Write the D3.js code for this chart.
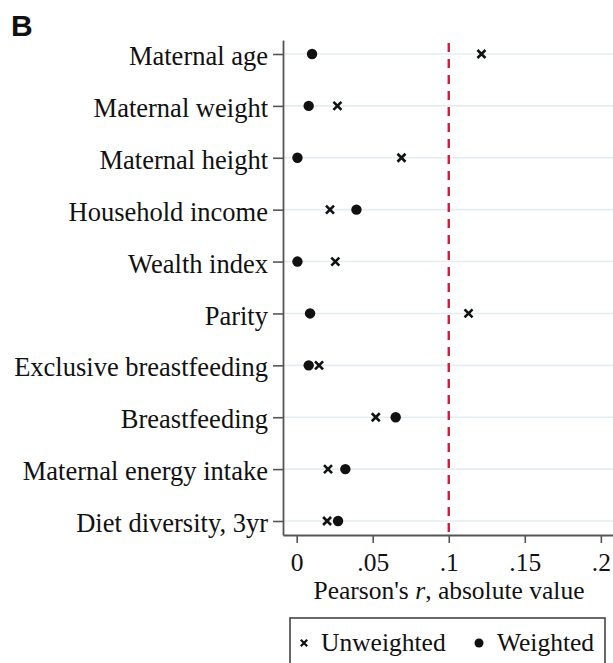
<!DOCTYPE html>
<html>
<head>
<meta charset="utf-8">
<script src="https://cdn.jsdelivr.net/npm/d3@7"></script>
<style>
  body { margin: 0; background: #fff; }
  svg text { font-family: "Liberation Serif", "Times New Roman", serif; fill: #111; }
</style>
</head>
<body>
<div id="chart"></div>
<script>
const width = 613
const height = 663

// Datos
const variables = ["Maternal age", "Maternal weight", "Maternal height", "Household income",
  "Wealth index", "Parity", "Exclusive breastfeeding", "Breastfeeding",
  "Maternal energy intake", "Diet diversity, 3yr"]
const unweighted = [0.1215, 0.0268, 0.0689, 0.0219, 0.0254, 0.113, 0.0147, 0.052, 0.0206, 0.020]
const weighted = [0.0101, 0.0079, 0.0005, 0.0393, 0.0005, 0.0088, 0.0079, 0.0651, 0.032, 0.0272]
const xTicks = [0, 0.05, 0.1, 0.15, 0.2]
const threshold = 0.1

const svg = d3.select("#chart").append("svg")
  .attr("width", width)
  .attr("height", height)

// Escalas
const x = d3.scaleLinear().domain([-0.009, 0.208]).range([283, 613])
const y = d3.scalePoint().domain(variables).range([40, 535]).padding(0.27)

// gridlines
svg.append("g").selectAll("line")
  .data(variables)
  .join("line")
    .attr("x1", 283).attr("x2", 613)
    .attr("y1", d => y(d)).attr("y2", d => y(d))
    .attr("stroke", "#e4eef1")
    .attr("stroke-width", 1.6)

// linea de referencia
svg.append("line")
  .attr("x1", x(threshold)).attr("x2", x(threshold))
  .attr("y1", 40).attr("y2", 535)
  .attr("stroke", "#d51a3f")
  .attr("stroke-width", 2.4)
  .attr("stroke-dasharray", "9,7")
  .attr("stroke-dashoffset", -3)

// Ejes
const yAxisGroup = svg.append("g").attr("transform", "translate(283,0)")
  .call(d3.axisLeft(y).tickSize(10).tickSizeOuter(0).tickPadding(5))
const xAxisGroup = svg.append("g").attr("transform", "translate(0,535)")
  .call(d3.axisBottom(x).tickValues(xTicks).tickSize(8).tickSizeOuter(0).tickPadding(10)
    .tickFormat(d => d === 0 ? "0" : d3.format(".2~f")(d).replace(/^0/, "")))

for (const g of [yAxisGroup, xAxisGroup]) {
  g.select(".domain").attr("stroke", "#555").attr("stroke-width", 1.8)
  g.selectAll(".tick line").attr("stroke", "#555").attr("stroke-width", 1.6)
  g.selectAll(".tick text").attr("font-size", 25.5).attr("fill", "#111")
    .attr("font-family", "Liberation Serif, Times New Roman, serif")
}
yAxisGroup.selectAll(".tick text").attr("font-size", 26.5).attr("dy", "0.4em")

// Marcas: x = sin ponderar, punto = ponderado
const cross = (sel, s, w) => sel.attr("d", `M${-s},${-s}L${s},${s}M${-s},${s}L${s},${-s}`)
  .attr("stroke", "#111").attr("stroke-width", w).attr("fill", "none")

svg.append("g").selectAll("path")
  .data(variables)
  .join("path")
    .attr("transform", (d, i) => `translate(${x(unweighted[i])},${y(d)})`)
    .call(cross, 4, 2.6)

svg.append("g").selectAll("circle")
  .data(variables)
  .join("circle")
    .attr("cx", (d, i) => x(weighted[i]))
    .attr("cy", d => y(d))
    .attr("r", 5.2)
    .attr("fill", "#111")

// Titulo eje x
svg.append("text")
  .attr("x", 449).attr("y", 599)
  .attr("text-anchor", "middle")
  .attr("font-size", 25.5)
  .html("Pearson's <tspan font-style='italic'>r</tspan>, absolute value")

// Leyenda
const legend = svg.append("g")
legend.append("rect")
  .attr("x", 290).attr("y", 618).attr("width", 315).attr("height", 60)
  .attr("fill", "none").attr("stroke", "#444").attr("stroke-width", 1.6)
legend.append("path").attr("transform", "translate(304,643)").call(cross, 3.2, 2.2)
legend.append("text").attr("x", 321).attr("y", 651).attr("font-size", 25.5).text("Unweighted")
legend.append("circle").attr("cx", 479).attr("cy", 643).attr("r", 4.5).attr("fill", "#111")
legend.append("text").attr("x", 497).attr("y", 651).attr("font-size", 25.5).text("Weighted")

// Letra del panel
svg.append("text")
  .attr("x", 11).attr("y", 36)
  .attr("font-size", 30).attr("font-weight", "bold")
  .style("font-family", "Liberation Sans, Arial, sans-serif")
  .text("B")
</script>
</body>
</html>
